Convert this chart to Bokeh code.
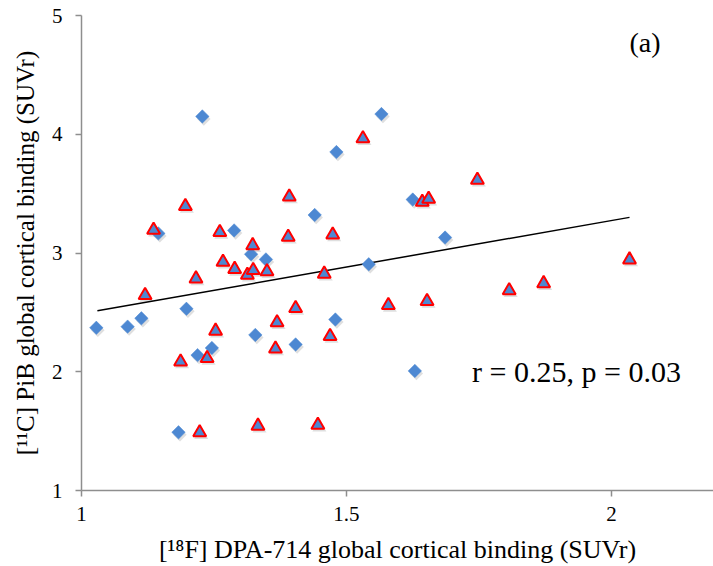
import numpy as np
from bokeh.plotting import figure
from bokeh.models import Range1d, FixedTicker, Label
from bokeh.embed import file_html
from bokeh.resources import INLINE

# ---- data ----
diamond_x = [1.028, 1.087, 1.113, 1.145, 1.183, 1.198, 1.219, 1.228, 1.246, 1.288, 1.320,
             1.328, 1.348, 1.404, 1.440, 1.479, 1.481, 1.542, 1.566, 1.625, 1.629, 1.686]
diamond_y = [2.37, 2.38, 2.45, 3.165, 1.49, 2.53, 2.14, 4.15, 2.20, 3.19, 2.99,
             2.31, 2.946, 2.23, 3.32, 2.44, 3.85, 2.905, 4.17, 3.45, 2.007, 3.13]

triangle_x = [1.120, 1.136, 1.187, 1.196, 1.216, 1.223, 1.237, 1.253, 1.261, 1.267, 1.289,
              1.313, 1.323, 1.324, 1.333, 1.350, 1.366, 1.369, 1.390, 1.392, 1.404, 1.446,
              1.458, 1.469, 1.474, 1.531, 1.579, 1.643, 1.652, 1.655, 1.747, 1.807, 1.872, 2.034]
triangle_y = [2.66, 3.21, 2.10, 3.41, 2.80, 1.505, 2.13, 2.36, 3.19, 2.94, 2.88,
              2.83, 3.08, 2.87, 1.56, 2.86, 2.21, 2.43, 3.15, 3.49, 2.55, 1.567,
              2.84, 2.315, 3.17, 3.98, 2.576, 3.445, 2.61, 3.47, 3.63, 2.70, 2.76, 2.96]

trend_x = [1.030, 2.034]
trend_y = [2.514, 3.300]

x_ticks = [1, 1.5, 2]
y_ticks = [1, 2, 3, 4, 5]

x_label = "[\u00b9\u2078F] DPA-714 global cortical binding (SUVr)"
y_label = "[\u00b9\u00b9C] PiB global cortical binding (SUVr)"
stats_text = "r = 0.25, p = 0.03"
panel_text = "(a)"

# ---- figure ----
FONT = "Liberation Serif"
BLUE = "#4D88D2"
RED = "#FF0000"
AXIS_GRAY = "#8E8E8E"

X_END = 2.1925
W, H = 713, 566
p = figure(width=W, height=H, output_backend="svg", toolbar_location=None,
           x_range=Range1d(1, X_END), y_range=Range1d(1, 5),
           min_border_left=81, min_border_right=0, min_border_top=15, min_border_bottom=60)
p.outline_line_color = None
p.grid.grid_line_color = None
p.background_fill_color = "white"
p.border_fill_color = "white"

# pixel -> data conversions used for small marker-style offsets
px_x = (X_END - 1) / 632.0
px_y = 4.0 / 476.0

dx = np.array(diamond_x); dy = np.array(diamond_y)
tx = np.array(triangle_x); ty = np.array(triangle_y)
tri_size = 13
tri_shift = 0.289 * (tri_size / 2) * px_y  # bokeh triangle anchor vs bbox centre

# soft shadows (Excel style)
p.scatter(dx + 1.5 * px_x, dy - 2.5 * px_y, marker="square", angle=np.pi / 4, size=9.5,
          fill_color="#7f7f7f", fill_alpha=0.25, line_color=None)
p.scatter(tx + 1.5 * px_x, ty - tri_shift - 2.5 * px_y, marker="triangle", size=tri_size + 1,
          fill_color="#7f7f7f", fill_alpha=0.25, line_color=None)

# trend line
p.line(trend_x, trend_y, line_color="black", line_width=1.5)

# diamonds
p.scatter(dx, dy, marker="square", angle=np.pi / 4, size=9.5,
          fill_color=BLUE, line_color=BLUE, line_width=0.5)
# triangles
p.scatter(tx, ty - tri_shift, marker="triangle", size=tri_size,
          fill_color=BLUE, line_color=RED, line_width=2)

# axes
for ax in (p.xaxis[0], p.yaxis[0]):
    ax.axis_line_color = AXIS_GRAY
    ax.axis_line_width = 1.5
    ax.major_tick_line_color = AXIS_GRAY
    ax.major_tick_line_width = 1.5
    ax.major_tick_in = 0
    ax.minor_tick_line_color = None
    ax.major_label_text_font = FONT
    ax.major_label_text_font_size = "21px"
    ax.major_label_text_color = "black"
    ax.axis_label_text_font = FONT
    ax.axis_label_text_font_style = "normal"
    ax.axis_label_text_color = "black"

p.xaxis.axis_label_text_font_size = "26px"
p.yaxis.axis_label_text_font_size = "25px"
p.xaxis.ticker = FixedTicker(ticks=x_ticks)
p.yaxis.ticker = FixedTicker(ticks=y_ticks)
p.xaxis.major_label_overrides = {1: "1", 1.5: "1.5", 2: "2"}
p.xaxis.major_tick_out = 6
p.yaxis.major_tick_out = 6
p.xaxis.major_label_standoff = 10
p.yaxis.major_label_standoff = 13
p.xaxis.axis_label_standoff = 11
p.yaxis.axis_label_standoff = 10
p.xaxis.axis_label = x_label
p.yaxis.axis_label = y_label

# text annotations
p.add_layout(Label(x=1.737, y=2.0, text=stats_text, text_font=FONT, text_font_size="30px",
                   text_baseline="middle", text_align="left", text_color="black"))
p.add_layout(Label(x=2.034, y=4.776, text=panel_text, text_font=FONT, text_font_size="28px",
                   text_baseline="middle", text_align="left", text_color="black"))

open("out.html", "w").write(file_html(p, INLINE))
